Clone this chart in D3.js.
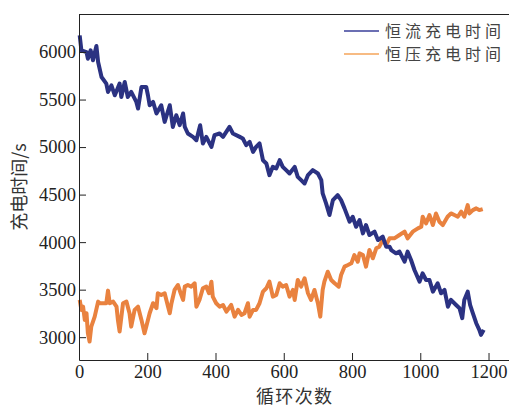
<!DOCTYPE html>
<html>
<head>
<meta charset="utf-8">
<script src="https://cdn.jsdelivr.net/npm/d3@7/dist/d3.min.js"></script>
<style>
body { margin: 0; background: #fff; }
.axis text { font-family: "Liberation Serif", "Times New Roman", serif; font-size: 18.5px; fill: #222; }
.axis path, .axis line { stroke: #222; }
.label { font-family: "Noto Sans CJK SC", sans-serif; font-size: 18px; fill: #333; }
.legend { font-family: "Noto Sans CJK SC", sans-serif; font-size: 16px; fill: #444; }
</style>
</head>
<body>
<div id="chart"></div>
<script>
// values (cycle, seconds)
var ccCycles = [2, 7, 22, 26, 34, 41, 51, 56, 66, 80, 85, 95, 105, 119, 124, 134, 143, 153, 168, 173, 183, 197, 202, 207, 217, 227, 241, 251, 266, 275, 285, 295, 305, 310, 319, 334, 344, 355, 363, 373, 388, 397, 412, 422, 441, 451, 471, 480, 490, 500, 510, 519, 529, 539, 549, 558, 568, 578, 588, 597, 607, 617, 632, 641, 651, 661, 671, 685, 700, 710, 714, 724, 734, 744, 758, 768, 778, 793, 802, 812, 822, 832, 841, 851, 866, 876, 890, 900, 910, 915, 929, 939, 954, 963, 973, 983, 998, 1007, 1017, 1027, 1037, 1051, 1061, 1071, 1081, 1090, 1105, 1115, 1123, 1129, 1139, 1146, 1154, 1164, 1173, 1178, 1186];
var ccTimes = [6175, 6018, 6000, 5930, 6018, 5913, 6063, 5895, 5737, 5668, 5580, 5650, 5545, 5668, 5527, 5685, 5527, 5580, 5475, 5405, 5632, 5632, 5545, 5440, 5475, 5353, 5440, 5265, 5440, 5212, 5335, 5230, 5353, 5212, 5143, 5107, 5072, 5230, 5038, 5107, 5002, 5125, 5143, 5107, 5212, 5143, 5107, 5090, 5020, 5055, 4950, 5002, 5038, 4862, 4828, 4705, 4792, 4775, 4862, 4792, 4757, 4722, 4792, 4687, 4652, 4617, 4705, 4757, 4722, 4652, 4512, 4408, 4285, 4442, 4495, 4442, 4355, 4215, 4267, 4162, 4232, 4092, 4180, 4075, 4110, 4022, 4057, 3952, 3952, 3917, 3882, 3900, 3794, 3900, 3812, 3707, 3584, 3672, 3602, 3602, 3479, 3567, 3462, 3497, 3321, 3392, 3339, 3305, 3200, 3392, 3479, 3339, 3252, 3147, 3077, 3024, 3077];

var cvCycles = [2, 7, 12, 17, 22, 26, 31, 36, 46, 56, 61, 70, 80, 85, 90, 100, 110, 114, 119, 129, 139, 148, 153, 163, 173, 183, 192, 197, 207, 217, 227, 231, 241, 251, 261, 266, 271, 280, 290, 298, 305, 310, 319, 329, 339, 344, 353, 363, 373, 381, 388, 392, 402, 412, 422, 432, 446, 456, 466, 476, 485, 495, 500, 510, 519, 529, 539, 549, 558, 568, 578, 588, 597, 607, 617, 627, 632, 641, 651, 661, 671, 680, 690, 700, 707, 714, 719, 729, 739, 749, 761, 768, 778, 788, 798, 807, 817, 822, 832, 841, 851, 861, 871, 880, 890, 900, 910, 924, 939, 954, 963, 978, 993, 1003, 1007, 1017, 1027, 1037, 1046, 1056, 1066, 1080, 1090, 1100, 1110, 1120, 1129, 1139, 1144, 1154, 1164, 1173, 1183];
var cvTimes = [3392, 3287, 3321, 3182, 3252, 3042, 2954, 3111, 3216, 3374, 3357, 3357, 3357, 3490, 3357, 3374, 3321, 3182, 3059, 3357, 3374, 3252, 3111, 3287, 3321, 3182, 3042, 3111, 3252, 3357, 3305, 3462, 3444, 3462, 3321, 3252, 3357, 3497, 3549, 3462, 3392, 3532, 3549, 3532, 3567, 3321, 3392, 3515, 3532, 3462, 3584, 3427, 3357, 3321, 3339, 3269, 3339, 3216, 3287, 3234, 3252, 3357, 3216, 3287, 3287, 3357, 3479, 3515, 3584, 3427, 3444, 3567, 3532, 3549, 3427, 3497, 3392, 3602, 3532, 3620, 3462, 3392, 3497, 3357, 3216, 3497, 3584, 3689, 3602, 3567, 3532, 3654, 3742, 3759, 3777, 3864, 3794, 3882, 3864, 3742, 3917, 3830, 3935, 3952, 4022, 3970, 4040, 4040, 4075, 4110, 4040, 4110, 4145, 4162, 4267, 4197, 4285, 4180, 4302, 4215, 4180, 4267, 4302, 4285, 4267, 4320, 4267, 4390, 4302, 4337, 4355, 4337, 4348];

var xTicks = [0, 200, 400, 600, 800, 1000, 1200];
var yTicks = [3000, 3500, 4000, 4500, 5000, 5500, 6000];
var seriesNames = ['恒流充电时间', '恒压充电时间'];
var seriesColors = ['#2b3282', '#e9823f'];
var legendColors = ['#3a3f9a', '#f5a55a'];

var width = 509, height = 409;
var margin = { top: 14, left: 79, bottom: 49, right: 0 };
var g_width = width - margin.left - margin.right;
var g_height = height - margin.top - margin.bottom;

var svg = d3.select('#chart').append('svg')
	.attr('width', width)
	.attr('height', height);
var g = svg.append('g')
	.attr('transform', 'translate(' + margin.left + ',' + margin.top + ')');

var xScale = d3.scaleLinear().domain([0, 1260]).range([0, g_width]);
var yScale = d3.scaleLinear().domain([2760, 6400]).range([g_height, 0]);

// top frame line
g.append('line')
	.attr('x1', 0).attr('x2', g_width)
	.attr('y1', 0.5).attr('y2', 0.5)
	.attr('stroke', '#222');

var line = d3.line()
	.x(function (d) { return xScale(d[0]); })
	.y(function (d) { return yScale(d[1]); });

// orange underneath, blue on top
var series = [
	{ data: d3.zip(cvCycles, cvTimes), color: seriesColors[1] },
	{ data: d3.zip(ccCycles, ccTimes), color: seriesColors[0] }
];
series.forEach(function (s) {
	g.append('path')
		.datum(s.data)
		.attr('fill', 'none')
		.attr('stroke', s.color)
		.attr('stroke-width', 4)
		.attr('stroke-linejoin', 'round')
		.attr('d', line);
});

g.append('g')
	.attr('class', 'x axis')
	.attr('transform', 'translate(0,' + g_height + ')')
	.call(d3.axisBottom(xScale).tickValues(xTicks).tickFormat(d3.format('d'))
		.tickSizeInner(-7).tickSizeOuter(0).tickPadding(5));

g.append('g')
	.attr('class', 'y axis')
	.call(d3.axisLeft(yScale).tickValues(yTicks).tickFormat(d3.format('d'))
		.tickSizeInner(-7).tickSizeOuter(0).tickPadding(3));

g.append('text')
	.attr('class', 'label')
	.attr('text-anchor', 'middle')
	.attr('x', g_width / 2)
	.attr('y', g_height + 43)
	.attr('textLength', 76)
	.text('循环次数');

g.append('text')
	.attr('class', 'label')
	.attr('text-anchor', 'middle')
	.attr('transform', 'translate(-53,' + (g_height / 2) + ') rotate(-90)')
	.text('充电时间/s');

// legend
seriesNames.forEach(function (name, i) {
	var ly = 31 + i * 23;
	svg.append('line')
		.attr('x1', 344).attr('x2', 379)
		.attr('y1', ly).attr('y2', ly)
		.attr('stroke', legendColors[i])
		.attr('stroke-width', 1.5);
	svg.append('text')
		.attr('class', 'legend')
		.attr('x', 385)
		.attr('y', ly)
		.attr('dy', '0.35em')
		.attr('textLength', 116)
		.text(name);
});
</script>
</body>
</html>
